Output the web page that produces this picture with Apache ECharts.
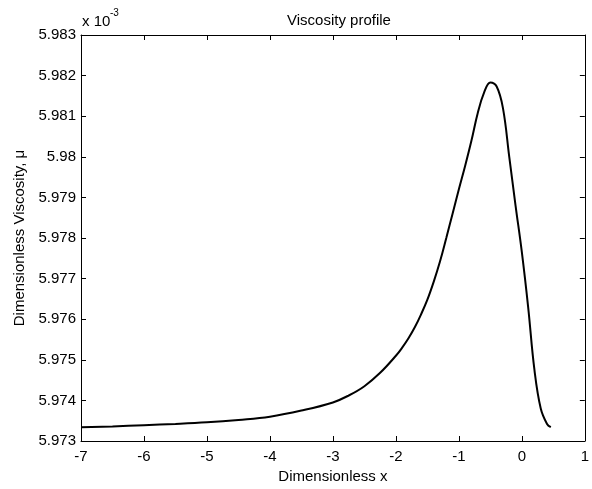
<!DOCTYPE html>
<html>
<head>
<meta charset="utf-8">
<script src="https://cdn.jsdelivr.net/npm/echarts@6/dist/echarts.min.js"></script>
<style>html,body{margin:0;padding:0;background:#fff}#c{width:592px;height:489px}</style>
</head>
<body>
<div id="c"></div>
<script>
var xValues = [-7, -6.5, -6, -5.5, -5, -4.5, -4, -3.5, -3, -2.75, -2.5, -2.25, -2.0, -1.9, -1.8, -1.7, -1.6, -1.5, -1.4, -1.3, -1.2, -1.1, -1.0, -0.9, -0.8, -0.7, -0.6, -0.5, -0.4, -0.3, -0.2, -0.1, 0.0, 0.1, 0.2, 0.3, 0.4, 0.46];
var muValues = [5.97334, 5.97336, 5.97339, 5.97342, 5.97346, 5.97352, 5.97360, 5.97375, 5.97395, 5.97412, 5.97435, 5.97468, 5.97510, 5.97530, 5.97553, 5.97580, 5.97612, 5.97648, 5.97692, 5.97742, 5.97800, 5.97860, 5.97920, 5.97978, 5.98040, 5.98108, 5.98158, 5.98183, 5.98173, 5.98120, 5.98000, 5.97880, 5.97765, 5.97630, 5.97475, 5.97380, 5.97342, 5.97334];
var xTicks = [-7, -6, -5, -4, -3, -2, -1, 0, 1];
var yTicks = [5.973, 5.974, 5.975, 5.976, 5.977, 5.978, 5.979, 5.98, 5.981, 5.982, 5.983];

var data = xValues.map(function (x, i) { return [x, muValues[i]]; });
var font = 'Liberation Sans, Arial, sans-serif';
var axisLine = { show: true, onZero: false, lineStyle: { color: '#000', width: 1 } };
var tick = { show: true, inside: true, length: 5, lineStyle: { color: '#000' } };

var chart = echarts.init(document.getElementById('c'));
chart.setOption({
  animation: false,
  backgroundColor: '#fff',
  title: {
    text: 'Viscosity profile',
    left: 334, top: 8, textAlign: 'center',
    textStyle: { fontFamily: font, fontSize: 15, fontWeight: 'normal', color: '#000' }
  },
  grid: { left: 81, right: 5, top: 35, bottom: 40, containLabel: false },
  xAxis: [{
    type: 'value', position: 'bottom', min: xTicks[0], max: xTicks[xTicks.length - 1], interval: 1,
    axisLine: axisLine, axisTick: tick, splitLine: { show: false },
    axisLabel: { color: '#000', fontFamily: font, fontSize: 15, margin: 8 },
    name: 'Dimensionless x', nameLocation: 'middle', nameGap: 28,
    nameTextStyle: { color: '#000', fontFamily: font, fontSize: 15 }
  }, {
    type: 'value', position: 'top', min: xTicks[0], max: xTicks[xTicks.length - 1], interval: 1,
    axisLine: axisLine, axisTick: tick, splitLine: { show: false }, axisLabel: { show: false }
  }],
  yAxis: [{
    type: 'value', position: 'left', min: yTicks[0], max: yTicks[yTicks.length - 1], interval: 0.001,
    axisLine: axisLine, axisTick: tick, splitLine: { show: false },
    axisLabel: { color: '#000', fontFamily: font, fontSize: 15, margin: 5,
      formatter: function (v) { return String(parseFloat(v.toFixed(3))); } },
    name: 'Dimensionless Viscosity, \u03bc', nameLocation: 'middle', nameGap: 51,
    nameTextStyle: { color: '#000', fontFamily: font, fontSize: 15 }
  }, {
    type: 'value', position: 'right', min: yTicks[0], max: yTicks[yTicks.length - 1], interval: 0.001,
    axisLine: axisLine, axisTick: tick, splitLine: { show: false }, axisLabel: { show: false }
  }],
  graphic: [
    { type: 'text', left: 82, top: 14, style: { text: 'x 10', fontFamily: font, fontSize: 15, fill: '#000' } },
    { type: 'text', left: 110, top: 8, style: { text: '-3', fontFamily: font, fontSize: 10, fill: '#000' } }
  ],
  series: [{
    type: 'line', xAxisIndex: 0, yAxisIndex: 0, data: data, smooth: 0.4,
    showSymbol: false, lineStyle: { color: '#000', width: 2 }
  }]
});
</script>
</body>
</html>
